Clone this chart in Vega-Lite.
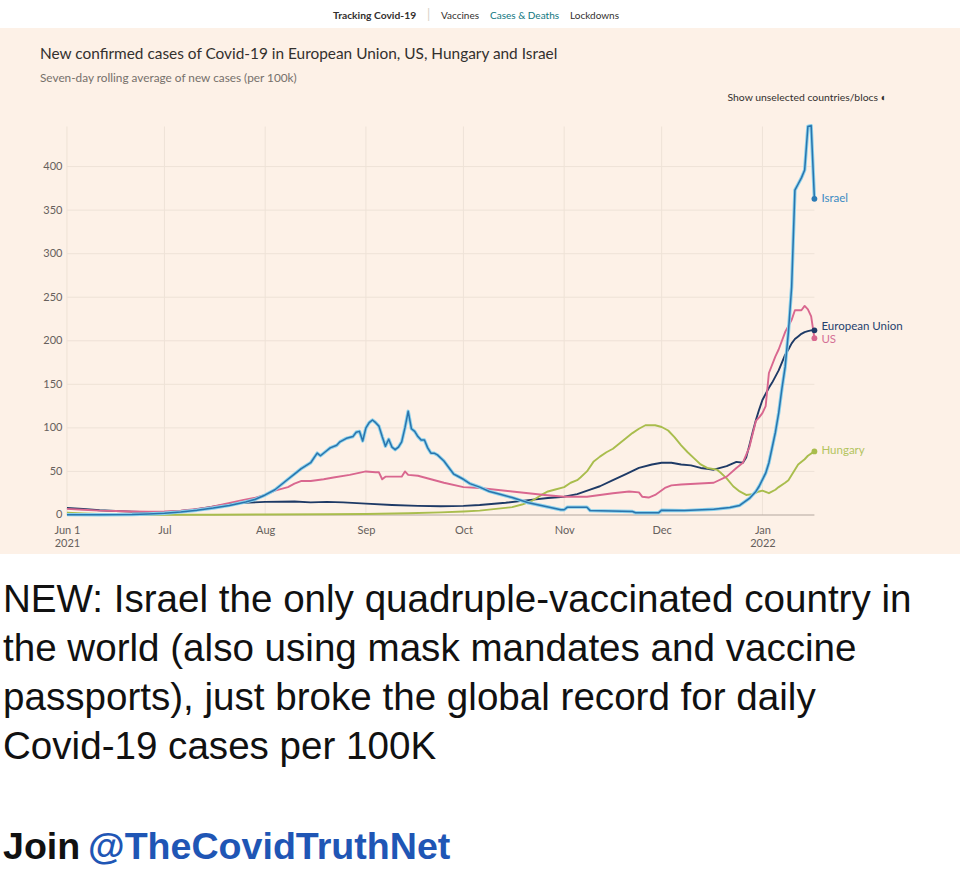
{
  "$schema": "https://vega.github.io/schema/vega-lite/v6.json",
  "background": "white",
  "padding": 0,
  "spacing": 0,
  "config": {"view": {"stroke": null}, "font": "Lato"},
  "datasets": {
    "cases": [
      {"series":"Israel","date":"2021-06-01","value":0.4},{"series":"Israel","date":"2021-06-11","value":0.3},{"series":"Israel","date":"2021-06-21","value":0.6},{"series":"Israel","date":"2021-06-26","value":1.2},{"series":"Israel","date":"2021-07-01","value":2},{"series":"Israel","date":"2021-07-06","value":3.5},{"series":"Israel","date":"2021-07-11","value":5.5},{"series":"Israel","date":"2021-07-16","value":8},{"series":"Israel","date":"2021-07-21","value":11},{"series":"Israel","date":"2021-07-26","value":15},{"series":"Israel","date":"2021-07-29","value":18},{"series":"Israel","date":"2021-08-01","value":23},{"series":"Israel","date":"2021-08-04","value":29},{"series":"Israel","date":"2021-08-06","value":35},{"series":"Israel","date":"2021-08-08","value":41},{"series":"Israel","date":"2021-08-10","value":47},{"series":"Israel","date":"2021-08-12","value":53},{"series":"Israel","date":"2021-08-15","value":60},{"series":"Israel","date":"2021-08-17","value":71},{"series":"Israel","date":"2021-08-18","value":68},{"series":"Israel","date":"2021-08-20","value":74},{"series":"Israel","date":"2021-08-21","value":77},{"series":"Israel","date":"2021-08-23","value":80},{"series":"Israel","date":"2021-08-24","value":84},{"series":"Israel","date":"2021-08-26","value":88},{"series":"Israel","date":"2021-08-28","value":90},{"series":"Israel","date":"2021-08-29","value":95},{"series":"Israel","date":"2021-08-30","value":96},{"series":"Israel","date":"2021-08-31","value":85},{"series":"Israel","date":"2021-09-01","value":100},{"series":"Israel","date":"2021-09-02","value":106},{"series":"Israel","date":"2021-09-03","value":109},{"series":"Israel","date":"2021-09-04","value":106},{"series":"Israel","date":"2021-09-05","value":102},{"series":"Israel","date":"2021-09-06","value":90},{"series":"Israel","date":"2021-09-07","value":79},{"series":"Israel","date":"2021-09-08","value":87},{"series":"Israel","date":"2021-09-09","value":78},{"series":"Israel","date":"2021-09-10","value":75},{"series":"Israel","date":"2021-09-11","value":78},{"series":"Israel","date":"2021-09-12","value":84},{"series":"Israel","date":"2021-09-13","value":100},{"series":"Israel","date":"2021-09-14","value":119},{"series":"Israel","date":"2021-09-15","value":99},{"series":"Israel","date":"2021-09-16","value":96},{"series":"Israel","date":"2021-09-17","value":90},{"series":"Israel","date":"2021-09-18","value":86},{"series":"Israel","date":"2021-09-19","value":86},{"series":"Israel","date":"2021-09-20","value":77},{"series":"Israel","date":"2021-09-21","value":71},{"series":"Israel","date":"2021-09-22","value":71},{"series":"Israel","date":"2021-09-23","value":69},{"series":"Israel","date":"2021-09-25","value":62},{"series":"Israel","date":"2021-09-27","value":52},{"series":"Israel","date":"2021-09-28","value":47},{"series":"Israel","date":"2021-09-29","value":45},{"series":"Israel","date":"2021-10-01","value":41},{"series":"Israel","date":"2021-10-03","value":36},{"series":"Israel","date":"2021-10-06","value":32},{"series":"Israel","date":"2021-10-09","value":27},{"series":"Israel","date":"2021-10-12","value":24},{"series":"Israel","date":"2021-10-16","value":20},{"series":"Israel","date":"2021-10-21","value":14},{"series":"Israel","date":"2021-10-26","value":10},{"series":"Israel","date":"2021-10-31","value":6},{"series":"Israel","date":"2021-11-01","value":6},{"series":"Israel","date":"2021-11-02","value":9},{"series":"Israel","date":"2021-11-08","value":9},{"series":"Israel","date":"2021-11-09","value":5},{"series":"Israel","date":"2021-11-22","value":4},{"series":"Israel","date":"2021-11-23","value":2.5},{"series":"Israel","date":"2021-11-30","value":2.5},{"series":"Israel","date":"2021-12-01","value":5.5},{"series":"Israel","date":"2021-12-08","value":5},{"series":"Israel","date":"2021-12-17","value":6.5},{"series":"Israel","date":"2021-12-22","value":8.5},{"series":"Israel","date":"2021-12-25","value":11},{"series":"Israel","date":"2021-12-28","value":19},{"series":"Israel","date":"2021-12-30","value":27},{"series":"Israel","date":"2021-12-31","value":33},{"series":"Israel","date":"2022-01-02","value":48},{"series":"Israel","date":"2022-01-03","value":60},{"series":"Israel","date":"2022-01-05","value":95},{"series":"Israel","date":"2022-01-06","value":117},{"series":"Israel","date":"2022-01-07","value":145},{"series":"Israel","date":"2022-01-08","value":170},{"series":"Israel","date":"2022-01-09","value":210},{"series":"Israel","date":"2022-01-10","value":262},{"series":"Israel","date":"2022-01-11","value":373},{"series":"Israel","date":"2022-01-12","value":380},{"series":"Israel","date":"2022-01-13","value":387},{"series":"Israel","date":"2022-01-14","value":396},{"series":"Israel","date":"2022-01-15","value":446},{"series":"Israel","date":"2022-01-16","value":447},{"series":"Israel","date":"2022-01-17","value":363},
      {"series":"European Union","date":"2021-06-01","value":8},{"series":"European Union","date":"2021-06-06","value":7},{"series":"European Union","date":"2021-06-11","value":5.5},{"series":"European Union","date":"2021-06-16","value":4.5},{"series":"European Union","date":"2021-06-21","value":3.8},{"series":"European Union","date":"2021-06-26","value":3.3},{"series":"European Union","date":"2021-07-01","value":3.3},{"series":"European Union","date":"2021-07-06","value":4.5},{"series":"European Union","date":"2021-07-10","value":6},{"series":"European Union","date":"2021-07-15","value":9},{"series":"European Union","date":"2021-07-20","value":12},{"series":"European Union","date":"2021-07-25","value":14},{"series":"European Union","date":"2021-08-01","value":15},{"series":"European Union","date":"2021-08-10","value":15.5},{"series":"European Union","date":"2021-08-15","value":14.5},{"series":"European Union","date":"2021-08-20","value":15},{"series":"European Union","date":"2021-08-25","value":14.5},{"series":"European Union","date":"2021-09-01","value":13},{"series":"European Union","date":"2021-09-09","value":11.5},{"series":"European Union","date":"2021-09-17","value":10.5},{"series":"European Union","date":"2021-09-24","value":10},{"series":"European Union","date":"2021-10-01","value":10.5},{"series":"European Union","date":"2021-10-06","value":11.5},{"series":"European Union","date":"2021-10-14","value":14},{"series":"European Union","date":"2021-10-21","value":17},{"series":"European Union","date":"2021-10-27","value":19.5},{"series":"European Union","date":"2021-11-01","value":21},{"series":"European Union","date":"2021-11-05","value":24},{"series":"European Union","date":"2021-11-09","value":29},{"series":"European Union","date":"2021-11-12","value":33},{"series":"European Union","date":"2021-11-16","value":40},{"series":"European Union","date":"2021-11-20","value":47},{"series":"European Union","date":"2021-11-24","value":54},{"series":"European Union","date":"2021-11-28","value":58},{"series":"European Union","date":"2021-12-01","value":60},{"series":"European Union","date":"2021-12-04","value":60},{"series":"European Union","date":"2021-12-07","value":58},{"series":"European Union","date":"2021-12-10","value":57},{"series":"European Union","date":"2021-12-13","value":54},{"series":"European Union","date":"2021-12-15","value":53},{"series":"European Union","date":"2021-12-17","value":52},{"series":"European Union","date":"2021-12-19","value":54},{"series":"European Union","date":"2021-12-21","value":56},{"series":"European Union","date":"2021-12-24","value":61},{"series":"European Union","date":"2021-12-26","value":60},{"series":"European Union","date":"2021-12-27","value":66},{"series":"European Union","date":"2021-12-28","value":80},{"series":"European Union","date":"2021-12-29","value":95},{"series":"European Union","date":"2021-12-30","value":109},{"series":"European Union","date":"2021-12-31","value":121},{"series":"European Union","date":"2022-01-01","value":132},{"series":"European Union","date":"2022-01-03","value":146},{"series":"European Union","date":"2022-01-04","value":152},{"series":"European Union","date":"2022-01-06","value":166},{"series":"European Union","date":"2022-01-07","value":175},{"series":"European Union","date":"2022-01-08","value":184},{"series":"European Union","date":"2022-01-09","value":190},{"series":"European Union","date":"2022-01-10","value":197},{"series":"European Union","date":"2022-01-11","value":202},{"series":"European Union","date":"2022-01-12","value":205},{"series":"European Union","date":"2022-01-13","value":208},{"series":"European Union","date":"2022-01-14","value":210},{"series":"European Union","date":"2022-01-15","value":211},{"series":"European Union","date":"2022-01-16","value":212},{"series":"European Union","date":"2022-01-17","value":212},
      {"series":"Hungary","date":"2021-06-01","value":2.5},{"series":"Hungary","date":"2021-06-06","value":1.8},{"series":"Hungary","date":"2021-06-11","value":1.2},{"series":"Hungary","date":"2021-06-21","value":0.6},{"series":"Hungary","date":"2021-07-01","value":0.3},{"series":"Hungary","date":"2021-07-16","value":0.3},{"series":"Hungary","date":"2021-08-01","value":0.6},{"series":"Hungary","date":"2021-08-20","value":0.8},{"series":"Hungary","date":"2021-09-01","value":1.2},{"series":"Hungary","date":"2021-09-14","value":2},{"series":"Hungary","date":"2021-09-24","value":3},{"series":"Hungary","date":"2021-10-01","value":4},{"series":"Hungary","date":"2021-10-06","value":5},{"series":"Hungary","date":"2021-10-11","value":7},{"series":"Hungary","date":"2021-10-16","value":9},{"series":"Hungary","date":"2021-10-19","value":12},{"series":"Hungary","date":"2021-10-22","value":16},{"series":"Hungary","date":"2021-10-25","value":23},{"series":"Hungary","date":"2021-10-27","value":27},{"series":"Hungary","date":"2021-10-29","value":29},{"series":"Hungary","date":"2021-11-01","value":32},{"series":"Hungary","date":"2021-11-03","value":37},{"series":"Hungary","date":"2021-11-05","value":40},{"series":"Hungary","date":"2021-11-06","value":43},{"series":"Hungary","date":"2021-11-08","value":50},{"series":"Hungary","date":"2021-11-10","value":61},{"series":"Hungary","date":"2021-11-12","value":67},{"series":"Hungary","date":"2021-11-14","value":72},{"series":"Hungary","date":"2021-11-16","value":76},{"series":"Hungary","date":"2021-11-18","value":82},{"series":"Hungary","date":"2021-11-20","value":88},{"series":"Hungary","date":"2021-11-22","value":94},{"series":"Hungary","date":"2021-11-24","value":99},{"series":"Hungary","date":"2021-11-26","value":103},{"series":"Hungary","date":"2021-11-29","value":103},{"series":"Hungary","date":"2021-12-01","value":101},{"series":"Hungary","date":"2021-12-03","value":97},{"series":"Hungary","date":"2021-12-05","value":89},{"series":"Hungary","date":"2021-12-07","value":80},{"series":"Hungary","date":"2021-12-09","value":72},{"series":"Hungary","date":"2021-12-11","value":65},{"series":"Hungary","date":"2021-12-13","value":58},{"series":"Hungary","date":"2021-12-15","value":54},{"series":"Hungary","date":"2021-12-18","value":52},{"series":"Hungary","date":"2021-12-19","value":49},{"series":"Hungary","date":"2021-12-21","value":42},{"series":"Hungary","date":"2021-12-23","value":33},{"series":"Hungary","date":"2021-12-25","value":27},{"series":"Hungary","date":"2021-12-27","value":23},{"series":"Hungary","date":"2021-12-29","value":24},{"series":"Hungary","date":"2021-12-31","value":27},{"series":"Hungary","date":"2022-01-01","value":28},{"series":"Hungary","date":"2022-01-03","value":25},{"series":"Hungary","date":"2022-01-05","value":29},{"series":"Hungary","date":"2022-01-06","value":32},{"series":"Hungary","date":"2022-01-08","value":37},{"series":"Hungary","date":"2022-01-09","value":40},{"series":"Hungary","date":"2022-01-11","value":52},{"series":"Hungary","date":"2022-01-12","value":58},{"series":"Hungary","date":"2022-01-14","value":64},{"series":"Hungary","date":"2022-01-15","value":68},{"series":"Hungary","date":"2022-01-17","value":73},
      {"series":"US","date":"2021-06-01","value":7},{"series":"US","date":"2021-06-06","value":6},{"series":"US","date":"2021-06-11","value":5},{"series":"US","date":"2021-06-16","value":4.5},{"series":"US","date":"2021-06-21","value":4},{"series":"US","date":"2021-06-26","value":3.8},{"series":"US","date":"2021-07-01","value":4},{"series":"US","date":"2021-07-06","value":5},{"series":"US","date":"2021-07-11","value":7},{"series":"US","date":"2021-07-15","value":9},{"series":"US","date":"2021-07-20","value":13},{"series":"US","date":"2021-07-25","value":17},{"series":"US","date":"2021-07-29","value":20},{"series":"US","date":"2021-08-01","value":23},{"series":"US","date":"2021-08-04","value":28},{"series":"US","date":"2021-08-08","value":32},{"series":"US","date":"2021-08-10","value":36},{"series":"US","date":"2021-08-12","value":39},{"series":"US","date":"2021-08-15","value":39},{"series":"US","date":"2021-08-19","value":41},{"series":"US","date":"2021-08-22","value":43},{"series":"US","date":"2021-08-27","value":46},{"series":"US","date":"2021-09-01","value":50},{"series":"US","date":"2021-09-04","value":49},{"series":"US","date":"2021-09-05","value":49},{"series":"US","date":"2021-09-06","value":41},{"series":"US","date":"2021-09-07","value":44},{"series":"US","date":"2021-09-10","value":44},{"series":"US","date":"2021-09-12","value":44},{"series":"US","date":"2021-09-13","value":50},{"series":"US","date":"2021-09-14","value":46},{"series":"US","date":"2021-09-17","value":45},{"series":"US","date":"2021-09-21","value":41},{"series":"US","date":"2021-09-25","value":37},{"series":"US","date":"2021-10-01","value":32},{"series":"US","date":"2021-10-06","value":31},{"series":"US","date":"2021-10-16","value":27},{"series":"US","date":"2021-10-26","value":23},{"series":"US","date":"2021-11-01","value":21},{"series":"US","date":"2021-11-08","value":21},{"series":"US","date":"2021-11-16","value":25},{"series":"US","date":"2021-11-21","value":27},{"series":"US","date":"2021-11-24","value":26},{"series":"US","date":"2021-11-25","value":21},{"series":"US","date":"2021-11-27","value":20},{"series":"US","date":"2021-11-29","value":23},{"series":"US","date":"2021-12-02","value":31},{"series":"US","date":"2021-12-04","value":34},{"series":"US","date":"2021-12-07","value":35},{"series":"US","date":"2021-12-17","value":37},{"series":"US","date":"2021-12-21","value":44},{"series":"US","date":"2021-12-24","value":54},{"series":"US","date":"2021-12-26","value":60},{"series":"US","date":"2021-12-28","value":78},{"series":"US","date":"2021-12-30","value":108},{"series":"US","date":"2021-12-31","value":112},{"series":"US","date":"2022-01-01","value":117},{"series":"US","date":"2022-01-02","value":125},{"series":"US","date":"2022-01-03","value":163},{"series":"US","date":"2022-01-05","value":182},{"series":"US","date":"2022-01-06","value":190},{"series":"US","date":"2022-01-08","value":210},{"series":"US","date":"2022-01-10","value":224},{"series":"US","date":"2022-01-11","value":235},{"series":"US","date":"2022-01-13","value":235},{"series":"US","date":"2022-01-14","value":240},{"series":"US","date":"2022-01-15","value":236},{"series":"US","date":"2022-01-16","value":228},{"series":"US","date":"2022-01-17","value":203}
    ],
    "ends": [
      {"series":"Israel","date":"2022-01-17","value":363},
      {"series":"European Union","date":"2022-01-17","value":212},
      {"series":"US","date":"2022-01-17","value":203},
      {"series":"Hungary","date":"2022-01-17","value":73}
    ],
    "hgrid": [{"v":50},{"v":100},{"v":150},{"v":200},{"v":250},{"v":300},{"v":350},{"v":400}],
    "vgrid": [{"m":"2021-06-01"},{"m":"2021-07-01"},{"m":"2021-08-01"},{"m":"2021-09-01"},{"m":"2021-10-01"},{"m":"2021-11-01"},{"m":"2021-12-01"},{"m":"2022-01-01"}]
  },
  "vconcat": [
    {
      "spacing": 10,
      "hconcat": [
        {"width": 1, "height": 28, "data": {"values": []}, "mark": "point",
         "title": {"text": "Tracking Covid-19", "orient": "top", "anchor": "start", "frame": "group", "dx": 333, "offset": -21, "font": "Lato", "fontSize": 10.3, "fontWeight": "bold", "color": "#33302e"}},
        {"width": 1, "height": 28, "data": {"values": []}, "mark": "point",
         "title": {"text": "|", "orient": "top", "anchor": "start", "frame": "group", "offset": -22, "font": "Lato", "fontSize": 13, "fontWeight": "normal", "color": "#d8cfc6"}},
        {"width": 1, "height": 28, "data": {"values": []}, "mark": "point",
         "title": {"text": "Vaccines", "orient": "top", "anchor": "start", "frame": "group", "offset": -21, "font": "Lato", "fontSize": 10, "fontWeight": "normal", "color": "#33302e"}},
        {"width": 1, "height": 28, "data": {"values": []}, "mark": "point",
         "title": {"text": "Cases & Deaths", "orient": "top", "anchor": "start", "frame": "group", "offset": -21, "font": "Lato", "fontSize": 10, "fontWeight": "normal", "color": "#0d7680"}},
        {"width": 1, "height": 28, "data": {"values": []}, "mark": "point",
         "title": {"text": "Lockdowns", "orient": "top", "anchor": "start", "frame": "group", "offset": -21, "font": "Lato", "fontSize": 10, "fontWeight": "normal", "color": "#33302e"}}
      ]
    },
    {
      "width": 960,
      "height": 526,
      "view": {"fill": "#FDF1E7", "stroke": null},
      "title": {
        "text": "New confirmed cases of Covid-19 in European Union, US, Hungary and Israel",
        "subtitle": "Seven-day rolling average of new cases (per 100k)",
        "orient": "top", "anchor": "start", "frame": "group", "dx": 40, "offset": -57,
        "font": "Lato", "fontSize": 15.4, "fontWeight": "normal", "color": "#33302e",
        "subtitleFont": "Lato", "subtitleFontSize": 11.8, "subtitleColor": "#76706b", "subtitlePadding": 11
      },
      "layer": [
        {
          "data": {"name": "hgrid"},
          "mark": {"type": "rule", "color": "#EEE2D7", "strokeWidth": 1},
          "encoding": {
            "y": {"field": "v", "type": "quantitative",
                  "scale": {"domain": [-44.8, 559.1], "nice": false, "zero": false},
                  "axis": {"orient": "left", "offset": -67, "values": [0,50,100,150,200,250,300,350,400],
                           "domain": false, "ticks": false, "grid": false, "labelPadding": 5,
                           "labelFont": "Lato", "labelFontSize": 11, "labelColor": "#66605c",
                           "title": "Show unselected countries/blocs  ◐", "titleX": 660, "titleY": 69, "titleAngle": 0,
                           "titleAlign": "left", "titleBaseline": "middle", "titleFont": "Lato", "titleFontSize": 10.4,
                           "titleFontWeight": "normal", "titleColor": "#33302e", "titleLimit": 1000}},
            "x": {"datum": {"year": 2021, "month": 6, "date": 1, "utc": true}, "type": "temporal",
                  "scale": {"type": "utc", "domain": [1620725760000, 1646248320000]},
                  "axis": {"orient": "bottom", "offset": -39,
                           "values": [{"year":2021,"month":6,"date":1,"utc":true},{"year":2021,"month":7,"date":1,"utc":true},{"year":2021,"month":8,"date":1,"utc":true},{"year":2021,"month":9,"date":1,"utc":true},{"year":2021,"month":10,"date":1,"utc":true},{"year":2021,"month":11,"date":1,"utc":true},{"year":2021,"month":12,"date":1,"utc":true},{"year":2022,"month":1,"date":1,"utc":true}],
                           "labelExpr": "utcmonth(datum.value) == 5 ? ['Jun 1', '2021'] : utcmonth(datum.value) == 0 ? ['Jan', '2022'] : utcFormat(datum.value, '%b')",
                           "domain": false, "ticks": false, "grid": false, "labelPadding": 9, "labelLineHeight": 13,
                           "labelFont": "Lato", "labelFontSize": 11, "labelColor": "#66605c",
                           "labelOverlap": false, "labelFlush": false, "title": null}},
            "x2": {"datum": {"year": 2022, "month": 1, "date": 17, "utc": true}}
          }
        },
        {
          "data": {"name": "vgrid"},
          "mark": {"type": "rule", "color": "#EEE2D7", "strokeWidth": 1},
          "encoding": {
            "x": {"field": "m", "type": "temporal", "title": null},
            "y": {"datum": 0},
            "y2": {"datum": 446}
          }
        },
        {
          "data": {"values": [{}]},
          "mark": {"type": "rule", "color": "#B3A89F", "strokeWidth": 1.2},
          "encoding": {
            "y": {"datum": 0},
            "x": {"datum": {"year": 2021, "month": 6, "date": 1, "utc": true}, "type": "temporal"},
            "x2": {"datum": {"year": 2022, "month": 1, "date": 17, "utc": true}}
          }
        },
        {
          "data": {"name": "cases"},
          "transform": [{"filter": "datum.series != 'Israel'"}],
          "mark": {"type": "line", "strokeWidth": 1.9, "strokeJoin": "round"},
          "encoding": {
            "x": {"field": "date", "type": "temporal", "title": null},
            "y": {"field": "value", "type": "quantitative", "title": "Show unselected countries/blocs  ◐"},
            "color": {"field": "series", "type": "nominal", "legend": null,
                      "scale": {"domain": ["European Union", "US", "Hungary", "Israel"], "range": ["#1e3a66", "#d9678f", "#a9bd4d", "#2a7ab5"]}},
            "order": {"field": "date", "type": "temporal"}
          }
        },
        {
          "data": {"name": "cases"},
          "transform": [{"filter": "datum.series == 'Israel'"}],
          "mark": {"type": "line", "strokeWidth": 3.4, "color": "#8ad1ec", "strokeJoin": "round"},
          "encoding": {
            "x": {"field": "date", "type": "temporal", "title": null},
            "y": {"field": "value", "type": "quantitative", "title": "Show unselected countries/blocs  ◐"}
          }
        },
        {
          "data": {"name": "cases"},
          "transform": [{"filter": "datum.series == 'Israel'"}],
          "mark": {"type": "line", "strokeWidth": 1.5, "color": "#2a74ad", "strokeJoin": "round"},
          "encoding": {
            "x": {"field": "date", "type": "temporal", "title": null},
            "y": {"field": "value", "type": "quantitative", "title": "Show unselected countries/blocs  ◐"}
          }
        },
        {
          "data": {"name": "ends"},
          "mark": {"type": "point", "filled": true, "size": 34, "opacity": 1},
          "encoding": {
            "x": {"field": "date", "type": "temporal", "title": null},
            "y": {"field": "value", "type": "quantitative", "title": "Show unselected countries/blocs  ◐"},
            "color": {"field": "series", "type": "nominal", "legend": null}
          }
        },
        {
          "data": {"name": "ends"},
          "transform": [{"filter": "datum.series == 'Israel'"}],
          "mark": {"type": "text", "align": "left", "baseline": "middle", "dx": 7, "font": "Lato", "fontSize": 11.5, "color": "#3b8bc3"},
          "encoding": {
            "x": {"field": "date", "type": "temporal", "title": null},
            "y": {"field": "value", "type": "quantitative", "title": "Show unselected countries/blocs  ◐"},
            "text": {"field": "series"}
          }
        },
        {
          "data": {"name": "ends"},
          "transform": [{"filter": "datum.series == 'European Union'"}],
          "mark": {"type": "text", "align": "left", "baseline": "middle", "dx": 7, "dy": -3, "font": "Lato", "fontSize": 11.5, "color": "#26426e"},
          "encoding": {
            "x": {"field": "date", "type": "temporal", "title": null},
            "y": {"field": "value", "type": "quantitative", "title": "Show unselected countries/blocs  ◐"},
            "text": {"field": "series"}
          }
        },
        {
          "data": {"name": "ends"},
          "transform": [{"filter": "datum.series == 'US'"}],
          "mark": {"type": "text", "align": "left", "baseline": "middle", "dx": 7, "dy": 2, "font": "Lato", "fontSize": 11.5, "color": "#d46f95"},
          "encoding": {
            "x": {"field": "date", "type": "temporal", "title": null},
            "y": {"field": "value", "type": "quantitative", "title": "Show unselected countries/blocs  ◐"},
            "text": {"field": "series"}
          }
        },
        {
          "data": {"name": "ends"},
          "transform": [{"filter": "datum.series == 'Hungary'"}],
          "mark": {"type": "text", "align": "left", "baseline": "middle", "dx": 7, "font": "Lato", "fontSize": 11.5, "color": "#b3c45f"},
          "encoding": {
            "x": {"field": "date", "type": "temporal", "title": null},
            "y": {"field": "value", "type": "quantitative", "title": "Show unselected countries/blocs  ◐"},
            "text": {"field": "series"}
          }
        }
      ]
    },
    {
      "width": 960, "height": 20, "data": {"values": []}, "mark": "point",
      "title": {
        "text": ["NEW: Israel the only quadruple-vaccinated country in", "the world (also using mask mandates and vaccine", "passports), just broke the global record for daily", "Covid-19 cases per 100K"],
        "orient": "bottom", "anchor": "start", "frame": "group", "dx": 3, "offset": 7.5,
        "font": "Liberation Sans", "fontSize": 38.6, "lineHeight": 49, "fontWeight": "normal", "color": "#111111"
      }
    },
    {
      "spacing": 7,
      "hconcat": [
        {"width": 1, "height": 54, "data": {"values": []}, "mark": "point",
         "title": {"text": "Join", "orient": "bottom", "anchor": "start", "frame": "group", "dx": 3, "offset": 8, "font": "Liberation Sans", "fontSize": 37.6, "fontWeight": "bold", "color": "#111111"}},
        {"width": 1, "height": 54, "data": {"values": []}, "mark": "point",
         "title": {"text": "@TheCovidTruthNet", "orient": "bottom", "anchor": "start", "frame": "group", "offset": 8, "font": "Liberation Sans", "fontSize": 37.6, "fontWeight": "bold", "color": "#1f56b5"}}
      ]
    }
  ]
}
